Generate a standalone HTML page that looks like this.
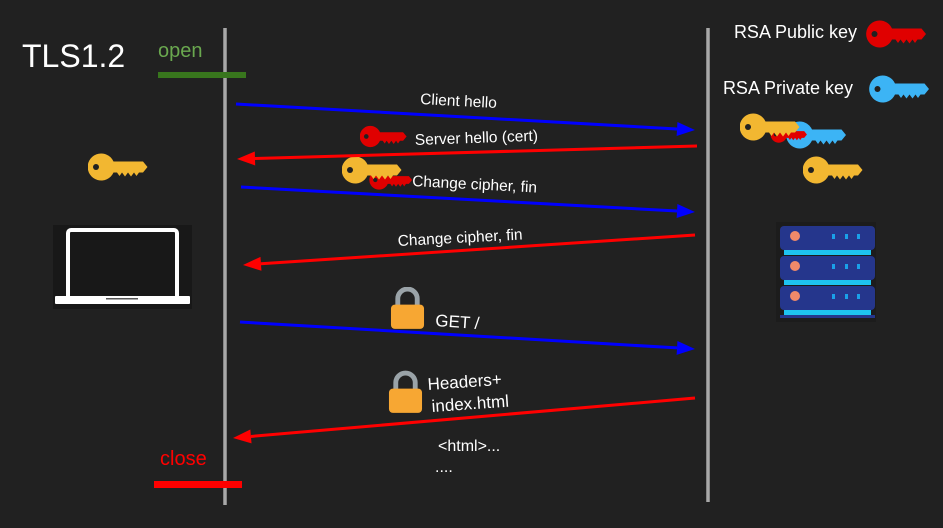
<!DOCTYPE html>
<html><head><meta charset="utf-8"><style>
html,body{margin:0;padding:0;background:#212121;}
svg{display:block;font-family:"Liberation Sans",sans-serif;}
</style></head><body>
<svg width="943" height="528" viewBox="0 0 943 528">
<defs>
<symbol id="key" viewBox="0 0 60 28">
<path d="M13 0.5 A13.5 13.5 0 1 0 25.5 19.5 L29 19.5 L31.5 23 L34 19.5 L37 23.5 L40 19.5 L43 23.5 L46 19.5 L48.5 23 L51 19.5 L55 19.5 L59.5 14 L55 8.5 L25.5 8.5 A13.5 13.5 0 0 0 13 0.5 Z" fill="currentColor"/>
<circle cx="8" cy="14" r="3" fill="#212121"/>
</symbol>
<symbol id="lock" viewBox="0 0 36 44">
<path d="M8 20 V12 A10 10 0 0 1 28 12 V20" fill="none" stroke="#9aa3a8" stroke-width="5"/>
<rect x="1" y="18" width="34" height="25" rx="4" fill="#f7a733"/>
</symbol>
</defs>

<line x1="225" y1="28" x2="225" y2="505" stroke="#a8a8a8" stroke-width="3.5"/>
<line x1="708" y1="28" x2="708" y2="502" stroke="#a8a8a8" stroke-width="3.5"/>

<text x="22" y="67" font-size="32" fill="#fff">TLS1.2</text>
<text x="158" y="57" font-size="20" fill="#6aa84f">open</text>
<rect x="158" y="72" width="88" height="6" fill="#38761d"/>
<text x="160" y="465" font-size="20" fill="#ff0000">close</text>
<rect x="154" y="481" width="88" height="7" fill="#ff0000"/>

<text x="857" y="38" font-size="18" fill="#fff" text-anchor="end">RSA Public key</text>
<text x="853" y="94" font-size="18" fill="#fff" text-anchor="end">RSA Private key</text>
<use href="#key" x="866" y="20" width="61" height="28" color="#e00000"/>
<use href="#key" x="869" y="75" width="61" height="28" color="#3cb4f5"/>
<use href="#key" x="786" y="121" width="61" height="28" color="#3cb4f5"/>
<use href="#key" x="766" y="126" width="46" height="17" color="#e00000"/>
<use href="#key" x="740" y="113" width="60" height="28" color="#f2b731"/>
<use href="#key" x="803" y="156" width="60" height="28" color="#f2b731"/>
<use href="#key" x="88" y="153" width="60" height="28" color="#f2b731"/>
<use href="#key" x="360" y="125" width="47" height="23" color="#e00000"/>
<use href="#key" x="368" y="170" width="46" height="20" color="#e00000"/>
<use href="#key" x="342" y="156" width="60" height="28" color="#f2b731"/>

<g>
<rect x="776" y="222" width="100" height="100" fill="#1c1c1c"/>
<g>
<rect x="780" y="226" width="95" height="24" rx="4" fill="#25368c"/><rect x="784" y="250" width="87" height="5" fill="#1ec3f0"/>
<circle cx="795" cy="236" r="5" fill="#f08a6a"/><rect x="832" y="234" width="3" height="5" fill="#1aa0e8"/><rect x="845" y="234" width="3" height="5" fill="#1aa0e8"/><rect x="857" y="234" width="3" height="5" fill="#1aa0e8"/>
<rect x="780" y="256" width="95" height="24" rx="4" fill="#25368c"/><rect x="784" y="280" width="87" height="5" fill="#1ec3f0"/>
<circle cx="795" cy="266" r="5" fill="#f08a6a"/><rect x="832" y="264" width="3" height="5" fill="#1aa0e8"/><rect x="845" y="264" width="3" height="5" fill="#1aa0e8"/><rect x="857" y="264" width="3" height="5" fill="#1aa0e8"/>
<rect x="780" y="286" width="95" height="24" rx="4" fill="#25368c"/><rect x="784" y="310" width="87" height="5" fill="#1ec3f0"/>
<circle cx="795" cy="296" r="5" fill="#f08a6a"/><rect x="832" y="294" width="3" height="5" fill="#1aa0e8"/><rect x="845" y="294" width="3" height="5" fill="#1aa0e8"/><rect x="857" y="294" width="3" height="5" fill="#1aa0e8"/>
<rect x="780" y="315" width="95" height="3" fill="#25368c"/>
</g></g>

<g>
<rect x="53" y="225" width="139" height="84" fill="#181818"/>
<rect x="68" y="230" width="109" height="69" rx="3" fill="none" stroke="#fff" stroke-width="4"/>
<rect x="55" y="296" width="135" height="8" rx="1" fill="#fff"/>
<rect x="106" y="298" width="32" height="1.5" fill="#555"/>
</g>

<use href="#lock" x="390" y="287" width="35" height="43"/>
<use href="#lock" x="388" y="370" width="35" height="45"/>

<g id="arrows"></g>

<g fill="#fff" font-size="15.5">
<text transform="translate(420,104) rotate(3)">Client hello</text>
<text transform="translate(415,145) rotate(-2)">Server hello (cert)</text>
<text transform="translate(412,186) rotate(3)">Change cipher, fin</text>
<text transform="translate(398,246) rotate(-3)">Change cipher, fin</text>
<text transform="translate(435,326) rotate(4)" font-size="17">GET /</text>
<text transform="translate(428,390) rotate(-4)" font-size="17">Headers+</text>
<text transform="translate(432,412) rotate(-4)" font-size="17">index.html</text>
<text x="438" y="451" font-size="16">&lt;html&gt;...</text>
<text x="435" y="472" font-size="16">....</text>
</g>

<script>
const arrowNames = ['client-hello','server-hello','change-cipher-client','change-cipher-server','get-request','response'];
const arrowX1 = [236, 697, 241, 695, 240, 695];
const arrowY1 = [104, 146, 187, 235, 322, 398];
const arrowX2 = [695, 237, 695, 243, 695, 233];
const arrowY2 = [130, 159, 212, 265, 349, 438];
const arrowColors = ['#0000ff','#ff0000','#0000ff','#ff0000','#0000ff','#ff0000'];
const g = document.getElementById('arrows');
const NS = 'http://www.w3.org/2000/svg';
for (let i = 0; i < arrowNames.length; i++) {
  const x1 = arrowX1[i], y1 = arrowY1[i], x2 = arrowX2[i], y2 = arrowY2[i];
  const a = Math.atan2(y2 - y1, x2 - x1), L = 18, W = 7;
  const bx = x2 - L * Math.cos(a), by = y2 - L * Math.sin(a);
  const ln = document.createElementNS(NS, 'line');
  ln.setAttribute('x1', x1); ln.setAttribute('y1', y1);
  ln.setAttribute('x2', bx); ln.setAttribute('y2', by);
  ln.setAttribute('stroke', arrowColors[i]); ln.setAttribute('stroke-width', 3);
  
  
  g.appendChild(ln);
  const p = document.createElementNS(NS, 'polygon');
  const px = -Math.sin(a) * W, py = Math.cos(a) * W;
  p.setAttribute('points', x2 + ',' + y2 + ' ' + (bx + px) + ',' + (by + py) + ' ' + (bx - px) + ',' + (by - py));
  p.setAttribute('fill', arrowColors[i]);
  
  
  g.appendChild(p);
}
</script>
</svg>
</body></html>
